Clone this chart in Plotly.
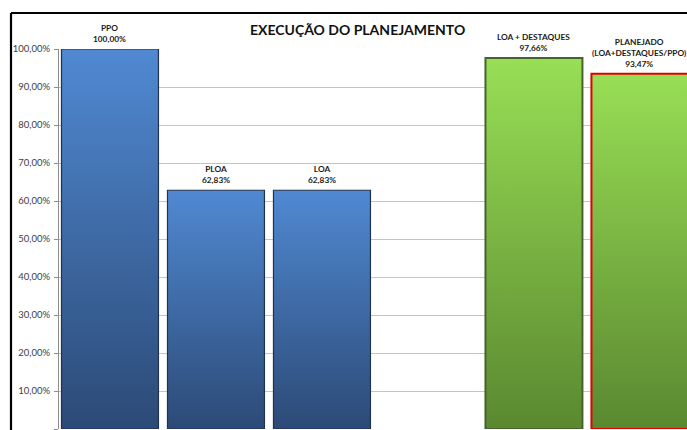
import plotly.graph_objects as go

# Chart data (percent of PPO)
categories = ["PPO", "PLOA", "LOA", "", "LOA + DESTAQUES", "PLANEJADO<br>(LOA+DESTAQUES/PPO)"]
values = [100.00, 62.83, 62.83, None, 97.66, 93.47]
y_ticks = [0, 10, 20, 30, 40, 50, 60, 70, 80, 90, 100]
y_tick_labels = [f"{t:.2f}%".replace(".", ",") for t in y_ticks]

# Styling per bar: (bottom colour, top colour, outline colour, outline width)
blue = ("#2c4a76", "#5089d2", "#1f3350", 1.2)
green = ("#5a8830", "#98de55", "#48622e", 2)
green_red = ("#5a8830", "#98de55", "#e00000", 2)
bar_styles = [blue, blue, blue, None, green, green_red]

W, H = 687, 430
ML, MR, MT, MB = 59, 0, 49, 1
BAR_W = 0.915
X_RANGE = [-0.481, 5.444]

fig = go.Figure()

for i, (cat, v, st) in enumerate(zip(categories, values, bar_styles)):
    if v is None:
        continue
    lo, hi, edge, ew = st
    x0, x1 = i - BAR_W / 2, i + BAR_W / 2
    fig.add_trace(go.Scatter(
        x=[x0, x0, x1, x1, x0],
        y=[0, v, v, 0, 0],
        mode="lines",
        fill="toself",
        fillgradient=dict(type="vertical", colorscale=[[0, lo], [1, hi]]),
        line=dict(color=edge, width=ew),
        hoverinfo="text",
        text=f"{cat}: {v:.2f}%".replace(".", ","),
        showlegend=False,
        cliponaxis=False,
    ))
    label = f"{cat}<br>{v:.2f}%".replace(".", ",")
    fig.add_annotation(
        x=i, y=v, xref="x", yref="y",
        text=f"<b>{label}</b>",
        showarrow=False, yanchor="bottom", yshift=3,
        xshift=-1 if i == 5 else 0,
        font=dict(family="Lato", size=8.3, color="#1a1a1a"),
    )

plot_w = W - ML - MR
plot_h = H - MT - MB

# Title
fig.add_annotation(
    x=(357 - ML) / plot_w, y=1 + (MT - 29) / plot_h,
    xref="paper", yref="paper",
    text="<b>EXECUÇÃO DO PLANEJAMENTO</b>",
    showarrow=False, xanchor="center", yanchor="middle",
    font=dict(family="Lato", size=14, color="#111111"),
)

# Chart-area frame (top and left edges visible)
fx = (11 - ML) / plot_w
fy = 1 + (MT - 13) / plot_h
fig.add_shape(type="line", xref="paper", yref="paper",
              x0=fx, y0=fy, x1=1.2, y1=fy, line=dict(color="black", width=2.2))
fig.add_shape(type="line", xref="paper", yref="paper",
              x0=fx, y0=fy, x1=fx, y1=-0.2, line=dict(color="black", width=2.2))

fig.update_layout(
    width=W, height=H,
    margin=dict(l=ML, r=MR, t=MT, b=MB),
    paper_bgcolor="white", plot_bgcolor="white",
    xaxis=dict(range=X_RANGE, showgrid=False, zeroline=False,
               showticklabels=False, ticks="", fixedrange=True),
    yaxis=dict(range=[0, 100], tickvals=y_ticks, ticktext=y_tick_labels,
               showgrid=True, gridcolor="#c4c4c4", gridwidth=1,
               zeroline=False, showline=True, linecolor="#8c8c8c", linewidth=1,
               ticks="outside", ticklen=4, tickcolor="#8c8c8c",
               tickfont=dict(family="Lato", size=9.5, color="#404040"),
               ticklabelstandoff=2),
    font=dict(family="Lato"),
)

fig.write_html("out.html")
